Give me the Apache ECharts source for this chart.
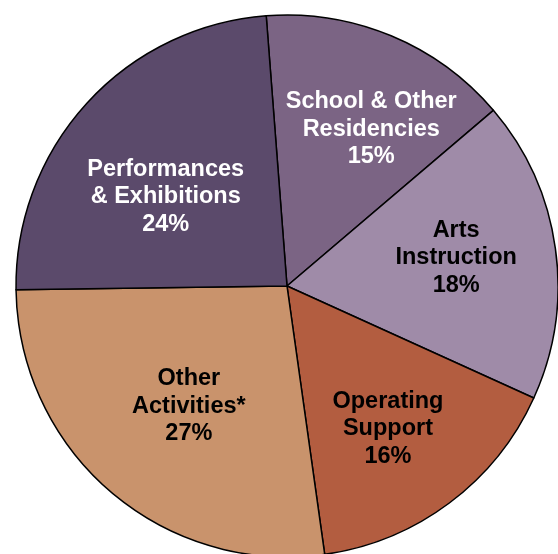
<!DOCTYPE html>
<html>
<head>
<meta charset="utf-8">
<script src="https://cdn.jsdelivr.net/npm/echarts@6/dist/echarts.min.js"></script>
<style>
html,body{margin:0;padding:0;background:#fff;}
#c{width:558px;height:554px;}
</style>
</head>
<body>
<div id="c"></div>
<script>
const categories = ["School & Other\nResidencies", "Arts\nInstruction", "Operating\nSupport", "Other\nActivities*", "Performances\n& Exhibitions"];
const values = [15, 18, 16, 27, 24];
const sliceColors = ["#7b6484", "#9f8ba8", "#b35d40", "#c9936c", "#5b4a6b"];
const labelColors = ["#ffffff", "#000000", "#000000", "#000000", "#ffffff"];
const labelOffsets = [[31, -29], [32, -9], [18, 32], [-8, 15], [-19, 4]];

const chart = echarts.init(document.getElementById('c'), null, {renderer: 'canvas'});
chart.setOption({
  animation: false,
  series: [{
    type: 'pie',
    center: [287, 286],
    radius: 271,
    startAngle: 94.4,
    clockwise: true,
    silent: true,
    itemStyle: {borderColor: '#000', borderWidth: 1.5},
    label: {
      show: true,
      position: 'inside',
      formatter: p => p.name + '\n' + p.value + '%',
      fontFamily: 'Liberation Sans, Arial, sans-serif',
      fontWeight: 'bold',
      fontSize: 23.5,
      lineHeight: 27.5,
      align: 'center'
    },
    labelLine: {show: false},
    labelLayout: p => ({dx: labelOffsets[p.dataIndex][0], dy: labelOffsets[p.dataIndex][1]}),
    data: categories.map((n, i) => ({
      name: n,
      value: values[i],
      itemStyle: {color: sliceColors[i]},
      label: {color: labelColors[i]}
    }))
  }]
});
</script>
</body>
</html>
